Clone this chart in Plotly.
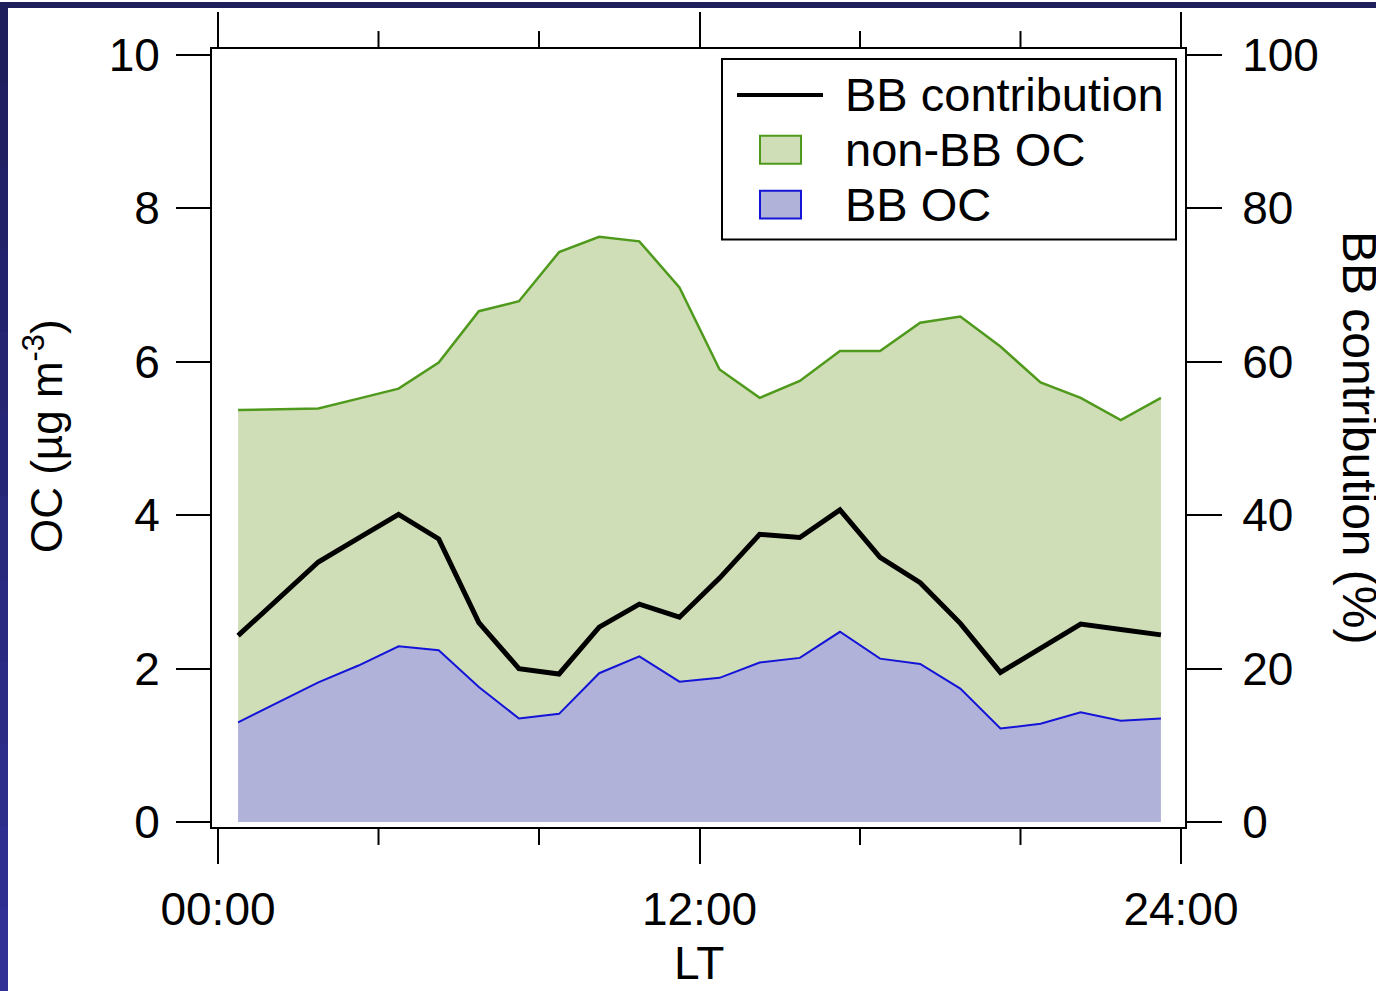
import plotly.graph_objects as go

# Diurnal cycle of organic carbon (hourly means, local time)
hours = [0.5, 1.5, 2.5, 3.5, 4.5, 5.5, 6.5, 7.5, 8.5, 9.5, 10.5, 11.5,
         12.5, 13.5, 14.5, 15.5, 16.5, 17.5, 18.5, 19.5, 20.5, 21.5, 22.5, 23.5]

bb_oc = [1.30, 1.56, 1.82, 2.04, 2.29, 2.24, 1.76, 1.35, 1.41, 1.94, 2.16, 1.83,
         1.88, 2.08, 2.14, 2.48, 2.13, 2.06, 1.74, 1.22, 1.28, 1.43, 1.32, 1.35]

non_bb_oc = [4.07, 3.82, 3.57, 3.48, 3.36, 3.75, 4.90, 5.44, 6.02, 5.69, 5.41, 5.14,
             4.02, 3.45, 3.61, 3.66, 4.01, 4.45, 4.85, 4.98, 4.45, 4.10, 3.92, 4.18]

bb_contribution = [24.3, 29.2, 33.9, 37.0, 40.1, 36.9, 26.0, 20.0, 19.3, 25.4, 28.4, 26.7,
                   31.8, 37.5, 37.1, 40.7, 34.5, 31.2, 25.9, 19.5, 22.6, 25.8, 25.1, 24.4]

x_tickvals = [0, 12, 24]
x_ticktext = ["00:00", "12:00", "24:00"]
x_minor_ticks = [4, 8, 16, 20]
y_ticks = [0, 2, 4, 6, 8, 10]
y2_ticks = [0, 20, 40, 60, 80, 100]

W, H = 1376, 991
ML, MR, MT, MB = 212, 191, 47, 164
PW, PH = W - ML - MR, H - MT - MB

GREEN_LINE = "#4f9a1c"
GREEN_FILL = "#cfdeb6"
BLUE_LINE = "#1414d8"
BLUE_FILL = "#b0b2da"
FONT = "Arial, Liberation Sans, sans-serif"


def px(x):
    """Pixel column -> paper x coordinate."""
    return (x - ML) / PW


def py(y):
    """Pixel row (from top) -> paper y coordinate."""
    return (H - MB - y) / PH


fig = go.Figure()

fig.add_trace(go.Scatter(
    x=hours, y=bb_oc, name="BB OC", mode="lines",
    stackgroup="oc", line=dict(color=BLUE_LINE, width=2),
    fillcolor=BLUE_FILL, showlegend=False,
))
fig.add_trace(go.Scatter(
    x=hours, y=non_bb_oc, name="non-BB OC", mode="lines",
    stackgroup="oc", line=dict(color=GREEN_LINE, width=2.5),
    fillcolor=GREEN_FILL, showlegend=False,
))
fig.add_trace(go.Scatter(
    x=hours, y=bb_contribution, name="BB contribution", mode="lines",
    yaxis="y2", line=dict(color="black", width=5), showlegend=False,
))

shapes = []

# slide background strips along the top and left edges
shapes.append(dict(type="rect", xref="paper", yref="paper",
                   x0=px(0), x1=px(W), y0=py(6), y1=py(0),
                   fillcolor="#1f1f5e", line=dict(width=0), layer="below"))
n_seg = 12
for i in range(n_seg):
    t = i / (n_seg - 1)
    r = int(0x1f + t * (0x30 - 0x1f))
    b = int(0x5e + t * (0x96 - 0x5e))
    shapes.append(dict(type="rect", xref="paper", yref="paper",
                       x0=px(0), x1=px(8),
                       y0=py(H * (i + 1) / n_seg + 1), y1=py(H * i / n_seg),
                       fillcolor=f"rgb({r},{r},{b})", line=dict(width=0),
                       layer="below"))

# short ticks at 4-hour steps on the bottom and top frame edges
for h in x_minor_ticks:
    shapes.append(dict(type="line", xref="x", yref="paper",
                       x0=h, x1=h, y0=py(827), y1=py(845),
                       line=dict(color="black", width=2), layer="above"))
    shapes.append(dict(type="line", xref="x", yref="paper",
                       x0=h, x1=h, y0=py(47), y1=py(29),
                       line=dict(color="black", width=2), layer="above"))

# legend box
shapes.append(dict(type="rect", xref="paper", yref="paper",
                   x0=px(722), x1=px(1176), y0=py(238), y1=py(57),
                   fillcolor="white", line=dict(color="black", width=2),
                   layer="above"))
shapes.append(dict(type="line", xref="paper", yref="paper",
                   x0=px(737), x1=px(823), y0=py(93), y1=py(93),
                   line=dict(color="black", width=4), layer="above"))
shapes.append(dict(type="rect", xref="paper", yref="paper",
                   x0=px(760), x1=px(801), y0=py(162), y1=py(134),
                   fillcolor=GREEN_FILL, line=dict(color=GREEN_LINE, width=2),
                   layer="above"))
shapes.append(dict(type="rect", xref="paper", yref="paper",
                   x0=px(760), x1=px(801), y0=py(217), y1=py(189),
                   fillcolor=BLUE_FILL, line=dict(color=BLUE_LINE, width=2),
                   layer="above"))

annotations = []
for label, yy in [("BB contribution", 93), ("non-BB OC", 148), ("BB OC", 203)]:
    annotations.append(dict(text=label, xref="paper", yref="paper",
                            x=px(843), y=py(yy), xanchor="left", yanchor="middle",
                            showarrow=False, font=dict(size=47, color="black", family=FONT)))

annotations.append(dict(text="OC (µg m<sup>-3</sup>)", xref="paper", yref="paper",
                        x=px(43), y=py(435), xanchor="center", yanchor="middle",
                        textangle=-90, showarrow=False,
                        font=dict(size=44, color="black", family=FONT)))
annotations.append(dict(text="BB contribution (%)", xref="paper", yref="paper",
                        x=px(1360), y=py(437), xanchor="center", yanchor="middle",
                        textangle=90, showarrow=False,
                        font=dict(size=48, color="black", family=FONT)))
annotations.append(dict(text="LT", xref="paper", yref="paper",
                        x=px(699), y=py(991), xanchor="center", yanchor="bottom",
                        showarrow=False,
                        font=dict(size=46, color="black", family=FONT)))

fig.update_layout(
    width=W, height=H,
    margin=dict(l=ML, r=MR, t=MT, b=MB, pad=0),
    paper_bgcolor="white", plot_bgcolor="white",
    font=dict(family=FONT, size=46, color="black"),
    showlegend=False,
    shapes=shapes,
    annotations=annotations,
    xaxis=dict(
        range=[-0.15, 24.1], tickvals=x_tickvals, ticktext=x_ticktext,
        ticks="outside", ticklen=35, tickwidth=2, tickcolor="black",
        showline=True, linewidth=2, linecolor="black", mirror="allticks",
        showgrid=False, zeroline=False, ticklabelstandoff=6,
    ),
    yaxis=dict(
        range=[-0.065, 10.078], tickvals=y_ticks,
        ticks="outside", ticklen=34, tickwidth=2, tickcolor="black",
        showline=True, linewidth=2, linecolor="black",
        showgrid=False, zeroline=False, ticklabelstandoff=7,
    ),
    yaxis2=dict(
        range=[-0.65, 100.78], tickvals=y2_ticks, overlaying="y", side="right",
        ticks="outside", ticklen=35, tickwidth=2, tickcolor="black",
        showline=True, linewidth=2, linecolor="black",
        showgrid=False, zeroline=False, ticklabelstandoff=11,
    ),
)

fig.write_html("out.html")
